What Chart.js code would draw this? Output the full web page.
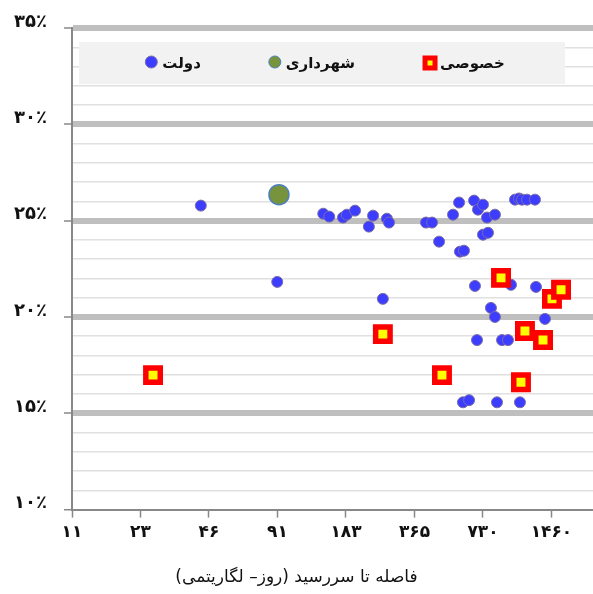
<!DOCTYPE html>
<html>
<head>
<meta charset="utf-8">
<script src="https://cdn.jsdelivr.net/npm/chart.js@4.4.2/dist/chart.umd.min.js"></script>
<style>
  html, body { margin: 0; padding: 0; background: #fff; overflow: hidden; }
  canvas { display: block; direction: rtl; }
</style>
</head>
<body>
<canvas id="chart" width="593" height="594" style="width:593px;height:594px"></canvas>
<script>
// x: days to maturity (log scale), y: yield %
const xTickDays = [11.40625, 22.8125, 45.625, 91.25, 182.5, 365, 730, 1460];
const xTickLabels = ['۱۱', '۲۳', '۴۶', '۹۱', '۱۸۳', '۳۶۵', '۷۳۰', '۱۴۶۰'];
const yTickValues = [10, 15, 20, 25, 30, 35];
const yTickLabels = ['۱۰٪', '۱۵٪', '۲۰٪', '۲۵٪', '۳۰٪', '۳۵٪'];

const seriesNames = ['دولت', 'شهرداری', 'خصوصی'];

// دولت
const govDays = [42, 91, 145, 154, 177, 184, 200, 230, 240, 276, 282, 265,
  410, 436, 468, 539, 573, 578, 602, 667, 694, 730, 760, 824, 730, 768,
  1009, 1051, 1083, 1139, 1235, 673, 969, 1248, 791, 824, 1367, 687, 885,
  940, 596, 634, 841, 1061];
const govRates = [25.78, 21.82, 25.36, 25.21, 25.16, 25.31, 25.52, 24.69,
  25.26, 25.10, 24.90, 20.94, 24.90, 24.90, 23.91, 25.31, 25.94, 23.39,
  23.44, 26.04, 25.57, 25.83, 25.16, 25.31, 24.27, 24.37, 26.09, 26.15,
  26.09, 26.09, 26.09, 21.61, 21.67, 21.56, 20.47, 20.0, 19.9, 18.8, 18.8,
  18.8, 15.57, 15.68, 15.57, 15.57];

// شهرداری
const muniDays = [92.6];
const muniRates = [26.35];

// خصوصی
const privDays = [25.9, 265, 482, 876, 1072, 1116, 1340, 1467, 1608];
const privRates = [16.98, 19.11, 16.98, 22.03, 16.61, 19.27, 18.8, 20.94, 21.41];

const toPoints = (xs, ys) => xs.map((x, i) => ({x: x, y: ys[i]}));

const styles = [
  {pointStyle: 'circle', radius: 5.5, borderWidth: 1, fill: '#3d3dff', stroke: '#7a6ca6'},
  {pointStyle: 'circle', radius: 10, borderWidth: 1.5, fill: '#77933c', stroke: '#4f81bd'},
  {pointStyle: 'rect', radius: 10.2, borderWidth: 5.5, fill: '#ffff00', stroke: '#ff0000'}
];

// grey legend strip drawn inside the plot area
const legendBox = {
  id: 'legendBox',
  beforeDatasetsDraw(chart) {
    const {ctx, chartArea} = chart;
    const left = chartArea.left + 7;
    const right = chartArea.right - 28;
    const top = chartArea.top + 14;
    const height = 42;
    ctx.save();
    ctx.fillStyle = '#f2f2f2';
    ctx.fillRect(left, top, right - left, height);

    ctx.font = 'bold 15px "DejaVu Sans"';
    ctx.textBaseline = 'middle';
    ctx.textAlign = 'left';
    const gap = 68;
    const widths = seriesNames.map(n => 17 + ctx.measureText(n).width);
    const total = widths.reduce((a, b) => a + b, 0) + gap * (widths.length - 1);
    let x = (left + right) / 2 + 3 - total / 2;
    const cy = top + height / 2;
    seriesNames.forEach((name, i) => {
      const s = styles[i];
      const mx = x + 6;
      ctx.fillStyle = s.fill;
      ctx.strokeStyle = s.stroke;
      ctx.beginPath();
      if (s.pointStyle === 'rect') {
        ctx.lineWidth = 5;
        ctx.rect(mx - 4, cy - 5, 10, 10);
      } else {
        ctx.lineWidth = 1;
        ctx.arc(mx, cy - 1, 6, 0, Math.PI * 2);
      }
      ctx.fill();
      ctx.stroke();
      ctx.fillStyle = '#111';
      ctx.fillText(name, x + 17, cy + 1);
      x += widths[i] + gap;
    });
    ctx.restore();
  }
};

const makeDataset = (i, xs, ys, order) => ({
  label: seriesNames[i],
  data: toPoints(xs, ys),
  order: order,
  pointStyle: styles[i].pointStyle,
  pointRadius: styles[i].radius,
  pointBorderWidth: styles[i].borderWidth,
  pointBackgroundColor: styles[i].fill,
  pointBorderColor: styles[i].stroke,
  showLine: false
});

const isMajor = v => v % 5 === 0;

new Chart(document.getElementById('chart'), {
  type: 'scatter',
  data: {
    datasets: [
      makeDataset(0, govDays, govRates, 3),
      makeDataset(1, muniDays, muniRates, 2),
      makeDataset(2, privDays, privRates, 1)
    ]
  },
  options: {
    responsive: false,
    animation: false,
    layout: {autoPadding: false, padding: {top: 28, right: 0, left: 0, bottom: 0}},
    scales: {
      x: {
        type: 'logarithmic',
        min: 365 / 32,
        max: 2222,
        afterBuildTicks: scale => {
          scale.ticks = xTickDays.map(v => ({value: v}));
        },
        afterFit: scale => {
          scale.height = 50;
          scale.paddingLeft = 0;
          scale.paddingRight = 0;
        },
        border: {display: true, color: '#888', width: 2},
        grid: {drawOnChartArea: false, drawTicks: true, tickLength: 8, tickColor: '#888', tickWidth: 1.5},
        ticks: {
          autoSkip: false,
          maxRotation: 0,
          padding: 5,
          color: '#111',
          font: {family: 'DejaVu Sans', size: 17, weight: 'bold'},
          callback: (value, index) => xTickLabels[index]
        }
      },
      y: {
        min: 10,
        max: 35,
        afterFit: scale => { scale.width = 72; },
        border: {display: true, color: '#888', width: 2},
        grid: {
          drawTicks: true,
          tickLength: 8,
          tickWidth: 1.5,
          color: ctx => (ctx.tick && isMajor(ctx.tick.value) && ctx.tick.value !== 10) ? '#bfbfbf' : '#e0e0e0',
          lineWidth: ctx => (ctx.tick && isMajor(ctx.tick.value) && ctx.tick.value !== 10) ? 6 : 1.5,
          tickColor: ctx => (ctx.tick && isMajor(ctx.tick.value)) ? '#888' : 'rgba(0,0,0,0)'
        },
        ticks: {
          stepSize: 1,
          autoSkip: false,
          padding: 17,
          labelOffset: -6,
          color: '#111',
          font: {family: 'DejaVu Sans', size: 18, weight: 'bold'},
          callback: value => {
            const i = yTickValues.indexOf(value);
            return i < 0 ? '' : yTickLabels[i];
          }
        }
      }
    },
    plugins: {
      legend: {display: false},
      tooltip: {enabled: false},
      title: {
        display: true,
        position: 'bottom',
        text: 'فاصله تا سررسید (روز– لگاریتمی)',
        color: '#111',
        font: {family: 'DejaVu Sans', size: 17, weight: 'normal'},
        padding: {top: 8, bottom: 6}
      }
    }
  },
  plugins: [legendBox]
});
</script>
</body>
</html>
